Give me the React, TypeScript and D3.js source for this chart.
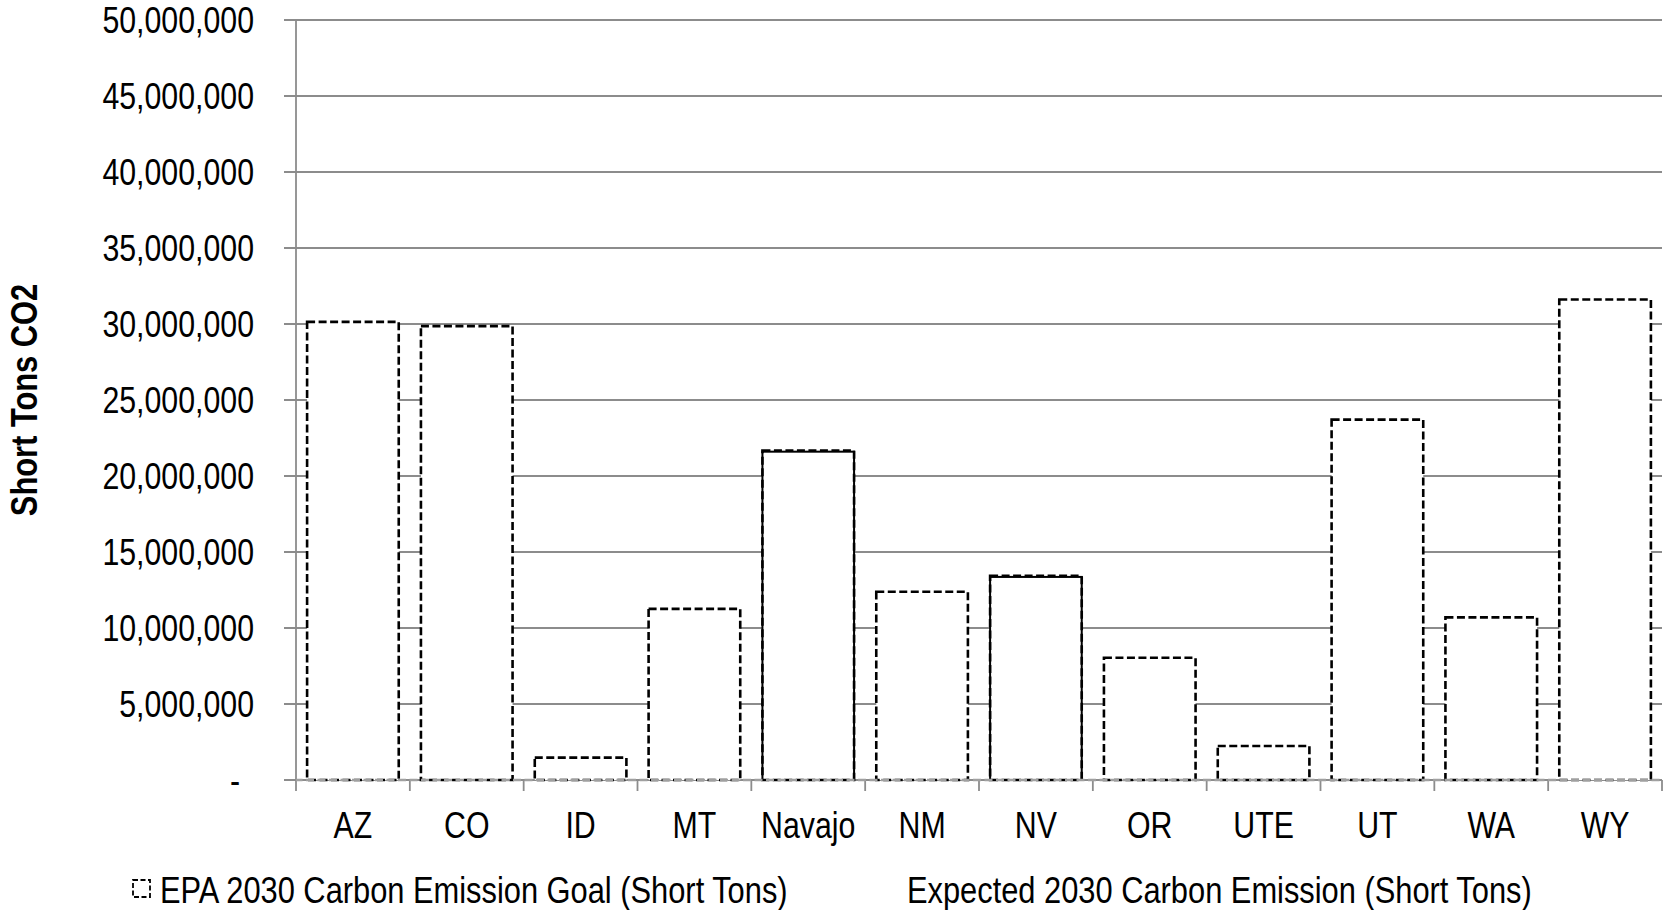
import * as d3 from 'd3'
import { useEffect, useRef } from 'react'

const WIDTH = 1665
const HEIGHT = 910
const LEFT = 296
const RIGHT = 1662
const TOP = 20
const BOTTOM = 780

const REGIONS = ['AZ', 'CO', 'ID', 'MT', 'Navajo', 'NM', 'NV', 'OR', 'UTE', 'UT', 'WA', 'WY']
const GOAL = [
  30140000, 29860000, 1470000, 11260000, 21680000, 12380000, 13430000, 8040000, 2240000,
  23710000, 10700000, 31610000,
]
const EXPECTED = [0, 0, 0, 0, 21600000, 0, 13360000, 0, 0, 0, 0, 0]
const Y_TICKS = [0, 5e6, 10e6, 15e6, 20e6, 25e6, 30e6, 35e6, 40e6, 45e6, 50e6]
const SERIES = ['EPA 2030 Carbon Emission Goal (Short Tons)', 'Expected 2030 Carbon Emission (Short Tons)']

// no narrow font installed: squeeze Liberation Sans horizontally instead
const FONT = "'Liberation Sans', Arial, sans-serif"
const SQUEEZE = 0.83
const GRID = '#8c8c8c'

type Sel = d3.Selection<any, any, any, any>
const narrow = (sel: Sel, fx: (d: any, i: number) => number, fy: (d: any, i: number) => number, sx = SQUEEZE) =>
  sel
    .attr('x', 0)
    .attr('y', 0)
    .attr('transform', (d: any, i: number) => `translate(${fx(d, i)},${fy(d, i)}) scale(${sx},1)`)
    .attr('font-family', FONT)
    .attr('font-size', 36.5)

function drawChart(node: SVGSVGElement) {
  const svg = d3.select(node)
  svg.selectAll('*').remove()

  const x = d3.scaleBand<string>().domain(REGIONS).range([LEFT, RIGHT]).paddingInner(0.195).paddingOuter(0.0975)
  const band = d3.scaleBand<string>().domain(REGIONS).range([LEFT, RIGHT])
  const y = d3.scaleLinear([0, 50e6], [BOTTOM, TOP])
  const fmt = d3.format(',')

  // gridlines + y tick labels
  const yg = svg.append('g')
  yg.selectAll('line')
    .data(Y_TICKS)
    .join('line')
    .attr('x1', LEFT - 12)
    .attr('x2', RIGHT)
    .attr('y1', (d) => y(d))
    .attr('y2', (d) => y(d))
    .attr('stroke', GRID)
    .attr('stroke-width', 1.8)
  yg.selectAll('text')
    .data(Y_TICKS)
    .join('text')
    .call(narrow, (d: number) => (d === 0 ? 240 : 254), (d: number) => y(d) + 13)
    .attr('text-anchor', 'end')
    .text((d) => (d === 0 ? '-' : fmt(d)))

  // y axis line
  svg.append('line')
    .attr('x1', LEFT).attr('x2', LEFT)
    .attr('y1', TOP).attr('y2', BOTTOM + 11)
    .attr('stroke', GRID).attr('stroke-width', 1.8)

  // x ticks between categories
  svg.append('g')
    .selectAll('line')
    .data(REGIONS)
    .join('line')
    .attr('x1', (d) => band(d)! + band.bandwidth())
    .attr('x2', (d) => band(d)! + band.bandwidth())
    .attr('y1', BOTTOM)
    .attr('y2', BOTTOM + 11)
    .attr('stroke', GRID)
    .attr('stroke-width', 1.8)

  // expected series (solid outline)
  svg.append('g')
    .selectAll('rect')
    .data(REGIONS.map((r, i) => ({ r, v: EXPECTED[i] })).filter((d) => d.v > 0))
    .join('rect')
    .attr('x', (d) => x(d.r)!)
    .attr('y', (d) => y(d.v))
    .attr('width', x.bandwidth())
    .attr('height', (d) => y(0) - y(d.v))
    .attr('fill', 'white')
    .attr('stroke', '#000')
    .attr('stroke-width', 2)

  // goal series (dashed outline)
  svg.append('g')
    .selectAll('rect')
    .data(REGIONS.map((r, i) => ({ r, v: GOAL[i] })))
    .join('rect')
    .attr('x', (d) => x(d.r)!)
    .attr('y', (d) => y(d.v))
    .attr('width', x.bandwidth())
    .attr('height', (d) => y(0) - y(d.v))
    .attr('fill', (_, i) => (EXPECTED[i] > 0 ? 'none' : 'white'))
    .attr('stroke', '#000')
    .attr('stroke-width', 2.6)
    .attr('stroke-dasharray', '8,3.5')

  // x axis baseline (over the bar bottoms)
  svg.append('line')
    .attr('x1', LEFT).attr('x2', RIGHT)
    .attr('y1', BOTTOM).attr('y2', BOTTOM)
    .attr('stroke', '#a0a0a0').attr('stroke-width', 2.6)
    .attr('stroke-dasharray', '8,3.5')
    .attr('stroke-dashoffset', -10)

  // x labels
  svg.append('g')
    .selectAll('text')
    .data(REGIONS)
    .join('text')
    .call(narrow, (d: string) => band(d)! + band.bandwidth() / 2, () => 838)
    .attr('text-anchor', 'middle')
    .text((d) => d)

  // y title
  svg.append('text')
    .attr('transform', `translate(37,400) rotate(-90) scale(0.845,1)`)
    .attr('text-anchor', 'middle')
    .attr('font-family', FONT)
    .attr('font-size', 36.5)
    .attr('font-weight', 'bold')
    .text('Short Tons CO2')

  // legend
  const lg = svg.append('g')
  lg.append('rect')
    .attr('x', 133).attr('y', 880)
    .attr('width', 17).attr('height', 17)
    .attr('fill', 'white')
    .attr('stroke', '#000')
    .attr('stroke-width', 1.8)
    .attr('stroke-dasharray', '5,2.5')
  lg.append('rect')
    .attr('x', 880).attr('y', 880)
    .attr('width', 17).attr('height', 17)
    .attr('fill', 'white')
  lg.selectAll('text')
    .data(SERIES)
    .join('text')
    .call(narrow, (_: string, i: number) => (i === 0 ? 160 : 907), () => 903, 0.845)
    .text((d) => d)
}

export default function App() {
  const ref = useRef<SVGSVGElement>(null)
  useEffect(() => {
    if (ref.current) drawChart(ref.current)
  }, [])
  return (
    <svg
      ref={ref}
      width={WIDTH}
      height={HEIGHT}
      style={{ position: 'absolute', left: 0, top: 0, background: 'white' }}
    />
  )
}
